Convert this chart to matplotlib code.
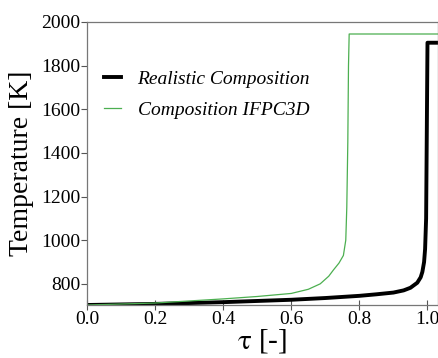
import numpy as np
import matplotlib
matplotlib.use("Agg")
import matplotlib.pyplot as plt

plt.rcParams['font.family'] = ['Liberation Serif', 'DejaVu Serif']
plt.rcParams['mathtext.fontset'] = 'stix'

# Temperature history vs. progress variable tau
tau_real = [0.0, 0.2, 0.4, 0.6, 0.7, 0.8, 0.85, 0.9, 0.93, 0.95, 0.97, 0.98, 0.985, 0.99, 0.993, 0.996, 0.998, 1.0, 1.03]
temp_real = [703, 708, 716, 727, 735, 745, 752, 760, 770, 782, 805, 830, 855, 900, 960, 1100, 1500, 1905, 1905]

tau_ifpc = [0.0, 0.2, 0.4, 0.5, 0.6, 0.65, 0.685, 0.71, 0.724, 0.74, 0.753, 0.76, 0.763, 0.766, 0.768, 0.77, 1.03]
temp_ifpc = [703, 712, 731, 742, 756, 775, 800, 835, 864, 895, 930, 1000, 1150, 1450, 1800, 1945, 1945]

x_ticks = [0.0, 0.2, 0.4, 0.6, 0.8, 1.0]
y_ticks = [800, 1000, 1200, 1400, 1600, 1800, 2000]

fig = plt.figure(figsize=(4.39, 3.58), dpi=100)
ax = fig.add_axes([87/439, 1 - 305/358, (437.7 - 87)/439, (305 - 22)/358])

ax.plot(tau_real, temp_real, color='black', lw=2.8, label='Realistic Composition', solid_joinstyle='round')
ax.plot(tau_ifpc, temp_ifpc, color='#4caf50', lw=0.9, label='Composition IFPC3D')

ax.set_xlim(0.0, 1.03)
ax.set_ylim(703, 2000)
ax.set_xticks(x_ticks)
ax.set_yticks(y_ticks)
ax.set_xticklabels([f"{v:.1f}" for v in x_ticks])
ax.tick_params(axis='x', direction='inout', length=7, labelsize=14, color='#555555', pad=1)
ax.tick_params(axis='y', direction='out', length=4, labelsize=14, color='#555555', pad=1)
for s in ax.spines.values():
    s.set_color('#777777')
    s.set_linewidth(0.9)

ax.set_xlabel(r'$\mathrm{\tau}$ [-]', fontsize=21, labelpad=-1)
ax.set_ylabel('Temperature [K]', fontsize=20, labelpad=5)

leg = ax.legend(loc='upper left', bbox_to_anchor=(0.0, 0.892), frameon=False,
                prop={'style': 'italic', 'size': 14, 'family': 'Liberation Serif'},
                handlelength=0.85, labelspacing=0.72, handletextpad=0.85)

fig.savefig('out.png', dpi=100)
